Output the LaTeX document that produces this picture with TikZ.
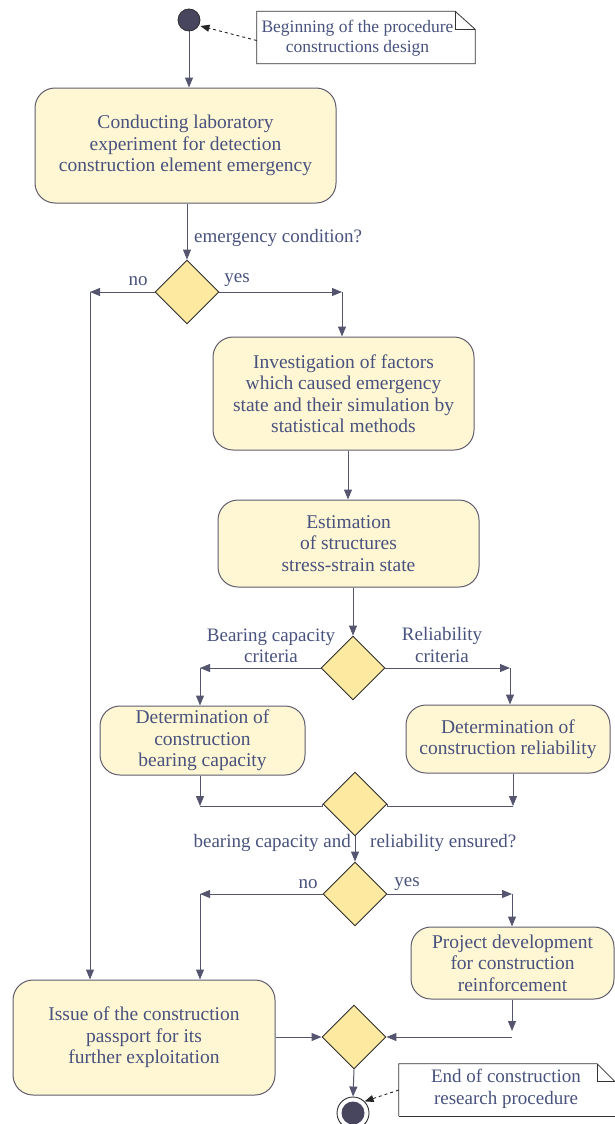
\documentclass[tikz,border=0pt]{standalone}
\usepackage{fontspec}
\setmainfont{Liberation Serif}
\usetikzlibrary{arrows.meta,shapes.geometric}
\definecolor{txt}{RGB}{72,82,125}
\definecolor{ln}{RGB}{85,85,112}
\definecolor{boxfill}{RGB}{255,247,212}
\definecolor{boxdraw}{RGB}{95,92,110}
\definecolor{dfill}{RGB}{253,234,160}
\definecolor{ddraw}{RGB}{45,45,45}
\definecolor{dot}{RGB}{72,70,95}
\tikzset{
  every node/.style={text=txt, font=\fontsize{19}{21.5}\selectfont},
  actbox/.style={draw=boxdraw, fill=boxfill, rounded corners=20pt, line width=1pt, align=center, inner sep=0pt, font=\fontsize{19.5}{21.5}\selectfont},
  dec/.style={diamond, draw=ddraw, fill=dfill, line width=0.9pt, minimum width=64pt, minimum height=64pt, inner sep=0pt, aspect=1},
  flow/.style={draw=ln, line width=1pt, -{Triangle[length=10pt,width=8pt]}},
  plain/.style={draw=ln, line width=1pt},
  notebox/.style={inner sep=0pt, align=center},
  lbl/.style={inner sep=0pt, align=center}
}
\begin{document}
\begin{tikzpicture}[x=1pt,y=-1pt]
\useasboundingbox (0,0) rectangle (615,1124);
% start
\node (start) [circle, fill=dot, draw=ddraw, line width=0.8pt, minimum size=22pt, inner sep=0pt] at (189,20) {};
% note 1
\node (n1) [notebox, minimum width=218pt, minimum height=52pt] at (366,37.5) {};
\node[lbl, font=\fontsize{17.5}{19.5}\selectfont] (n1t) at (357.5,38) {Beginning of the procedure\\constructions design};
\draw[line width=0.8pt, draw=black!80] (n1.south west) -- (n1.north west) -- ([xshift=-20pt]n1.north east) -- ([yshift=-18pt]n1.north east) -- (n1.south east) -- cycle;
\draw[line width=0.8pt, draw=black!80] ([xshift=-20pt]n1.north east) |- ([yshift=-18pt]n1.north east);
\draw[draw=black!85, line width=0.9pt, dashed, -{Triangle[length=9pt,width=7pt]}] ([yshift=-3pt]n1.west) -- (start.east |- 0,26) ;
% box 1
\node (b1) [actbox, minimum width=301pt, minimum height=115pt] at (185.5,145.5) {Conducting laboratory\\experiment for detection\\construction element emergency};
\draw[flow] (start) -- (b1.north -| start);
% diamond 1
\node (d1) [dec] at (187,292) {};
\draw[flow] (b1.south -| d1) -- (d1.north);
\node[lbl, anchor=west] (lq) at (194,238) {emergency condition?};
% no branch
\coordinate (c1) at (90,292);
\draw[flow] (d1.west) -- (c1);
\node[lbl] (lno1) at (138,281) {no};
% yes branch
\coordinate (c2) at (342,292);
\draw[flow] (d1.east) -- (c2);
\node[lbl] (lyes1) at (237,280) {yes};
% box 2
\node (b2) [actbox, minimum width=261pt, minimum height=113pt] at (343.5,393.5) {Investigation of factors\\which caused emergency\\state and their simulation by\\statistical methods};
\draw[flow] (c2) -- (b2.north -| c2);
% box 3
\node (b3) [actbox, minimum width=261pt, minimum height=87pt] at (348.5,543.5) {Estimation\\of structures\\stress-strain state};
\draw[flow] (b2.south -| 348,0) -- (b3.north -| 348,0);
% diamond 2
\node (d2) [dec] at (353,668) {};
\draw[flow] (b3.south -| d2) -- (d2.north);
\node[lbl] (lbc) at (271,646) {Bearing capacity\\criteria};
\node[lbl] (lrc) at (442,645) {Reliability\\criteria};
\coordinate (c3) at (200,668);
\coordinate (c4) at (510,668);
\draw[flow] (d2.west) -- (c3);
\draw[flow] (d2.east) -- (c4);
% box 4, box 5
\node (b4) [actbox, minimum width=205pt, minimum height=69pt] at (202.5,740.5) {Determination of\\construction\\bearing capacity};
\node (b5) [actbox, minimum width=204pt, minimum height=68pt] at (508,739) {Determination of\\construction reliability};
\draw[flow] (c3) -- (c3 |- b4.north);
\draw[flow] (c4) -- (c4 |- b5.north);
% diamond 3
\node (d3) [dec] at (355,804) {};
\coordinate (c5) at (200,806);
\coordinate (c6) at (513,806);
\draw[flow] (b4.south -| c5) -- (c5);
\draw[flow] (b5.south -| c6) -- (c6);
\draw[plain] (c5) -- (d3.west |- c5) -- (d3.west);
\draw[plain] (c6) -- (d3.east |- c6) -- (d3.east);
% diamond 4
\node (d4) [dec] at (355,894) {};
\draw[flow] (d3.south) -- (d4.north);
\node[lbl, anchor=east] (lbca) at (351,843) {bearing capacity and};
\node[lbl, anchor=west] (lre) at (370,843) {reliability ensured?};
\coordinate (c7) at (200,894);
\coordinate (c8) at (512,894);
\draw[flow] (d4.west) -- (c7);
\draw[flow] (d4.east) -- (c8);
\node[lbl] (lno2) at (308,884) {no};
\node[lbl] (lyes2) at (407,884) {yes};
% box 6
\node (b6) [actbox, minimum width=203pt, minimum height=72pt] at (512.5,963) {Project development\\for construction\\reinforcement};
\draw[flow] (c8) -- (c8 |- b6.north);
% box issue
\node (b7) [actbox, minimum width=262pt, minimum height=115pt] at (144,1037.5) {Issue of the construction\\passport for its\\further exploitation};
\draw[flow] (c1) -- (c1 |- b7.north);
\draw[flow] (c7) -- (c7 |- b7.north);
% diamond 5
\node (d5) [dec] at (354,1037) {};
\draw[flow] (b7.east |- d5) -- (d5.west);
\coordinate (c9) at (512,1031);
\draw[flow] (b6.south -| c9) -- (c9);
\draw[flow] (c9 |- d5) -- (d5.east);
% end
\node (endc) [circle, draw=ddraw, fill=white, line width=0.9pt, minimum size=32pt, inner sep=0pt] at (353,1113) {};
\node (endi) [circle, fill=dot, minimum size=23pt, inner sep=0pt] at (endc.center) {};
\draw[flow] (d5.south) -- (endc.north);
% note 2
\node (n2) [notebox, minimum width=226pt, minimum height=52pt] at (512,1090) {};
\node[lbl] (n2t) at (506,1089) {End of construction\\research procedure};
\draw[line width=0.8pt, draw=black!80] (n2.south west) -- (n2.north west) -- ([xshift=-28pt]n2.north east) -- ([xshift=-10pt,yshift=-18pt]n2.north east);
\draw[line width=0.8pt, draw=black!80] ([xshift=-28pt]n2.north east) |- ([xshift=-10pt,yshift=-18pt]n2.north east);
\draw[line width=0.8pt, draw=black!80] (n2.south west) -- (n2.south east);
\draw[draw=black!85, line width=0.9pt, dashed, -{Triangle[length=9pt,width=7pt]}] (n2.west) -- (endc.north east);
\end{tikzpicture}
\end{document}
